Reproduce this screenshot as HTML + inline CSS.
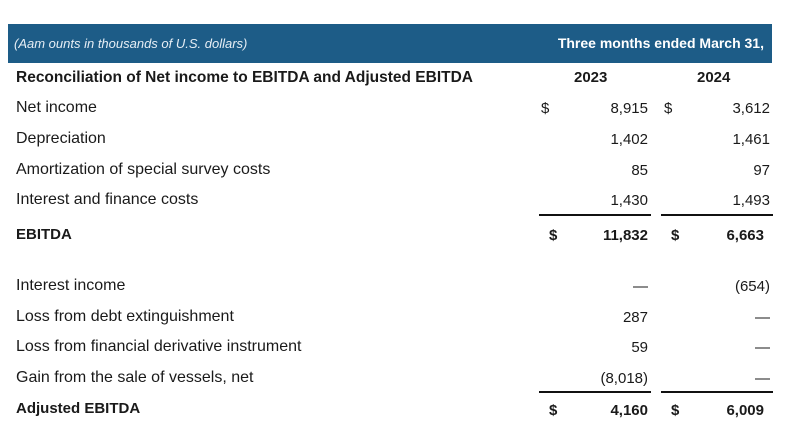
<!DOCTYPE html>
<html><head><meta charset="utf-8"><style>
body{margin:0;width:800px;height:438px;background:#fff;font-family:"Liberation Sans",sans-serif;color:#1a1a1a;position:relative;overflow:hidden}
.a{position:absolute;white-space:nowrap;line-height:1}
.l{left:16px;font-size:16px}
.r1{right:152px;font-size:15px;text-align:right}
.r2{right:30px;font-size:15px;text-align:right}
.b{font-weight:bold}
.d1{left:541px;font-size:15px}.d2{left:664px;font-size:15px}
.rule{position:absolute;height:2px;background:#111}
</style></head><body>
<div style="position:absolute;left:8px;top:24px;width:764px;height:39px;background:#1d5c87"></div>
<div class="a" style="left:14px;top:37px;font-size:13px;font-style:italic;color:#e6eef5">(Aam ounts in thousands of U.S. dollars)</div>
<div class="a b" style="right:36px;top:36px;font-size:14px;color:#fff">Three months ended March 31,</div>
<div class="a b l" style="top:70px;font-size:15.5px">Reconciliation of Net income to EBITDA and Adjusted EBITDA</div>
<div class="a b" style="left:574px;top:70px;font-size:15px">2023</div>
<div class="a b" style="left:697px;top:70px;font-size:15px">2024</div>

<div class="a l" style="top:100px">Net income</div>
<div class="a d1" style="top:101px">$</div>
<div class="a r1" style="top:101px">8,915</div>
<div class="a d2" style="top:101px">$</div>
<div class="a r2" style="top:101px">3,612</div>

<div class="a l" style="top:131px">Depreciation</div>
<div class="a r1" style="top:132px">1,402</div>
<div class="a r2" style="top:132px">1,461</div>

<div class="a l" style="top:162px">Amortization of special survey costs</div>
<div class="a r1" style="top:163px">85</div>
<div class="a r2" style="top:163px">97</div>

<div class="a l" style="top:192px">Interest and finance costs</div>
<div class="a r1" style="top:193px">1,430</div>
<div class="a r2" style="top:193px">1,493</div>

<div class="rule" style="left:539px;top:214px;width:112px"></div>
<div class="rule" style="left:661px;top:214px;width:112px"></div>

<div class="a l b" style="top:227px;font-size:15px">EBITDA</div>
<div class="a d1 b" style="top:228px;left:549px">$</div>
<div class="a r1 b" style="top:228px">11,832</div>
<div class="a d2 b" style="top:228px;left:671px">$</div>
<div class="a r2 b" style="top:228px;right:36px">6,663</div>

<div class="a l" style="top:278px">Interest income</div>
<div class="a r1" style="top:279px">—</div>
<div class="a r2" style="top:279px">(654)</div>

<div class="a l" style="top:309px">Loss from debt extinguishment</div>
<div class="a r1" style="top:310px">287</div>
<div class="a r2" style="top:310px">—</div>

<div class="a l" style="top:339px">Loss from financial derivative instrument</div>
<div class="a r1" style="top:340px">59</div>
<div class="a r2" style="top:340px">—</div>

<div class="a l" style="top:370px">Gain from the sale of vessels, net</div>
<div class="a r1" style="top:371px">(8,018)</div>
<div class="a r2" style="top:371px">—</div>

<div class="rule" style="left:539px;top:391px;width:112px"></div>
<div class="rule" style="left:661px;top:391px;width:112px"></div>

<div class="a l b" style="top:401px;font-size:15px">Adjusted EBITDA</div>
<div class="a d1 b" style="top:403px;left:549px">$</div>
<div class="a r1 b" style="top:403px">4,160</div>
<div class="a d2 b" style="top:403px;left:671px">$</div>
<div class="a r2 b" style="top:403px;right:36px">6,009</div>
</body></html>
